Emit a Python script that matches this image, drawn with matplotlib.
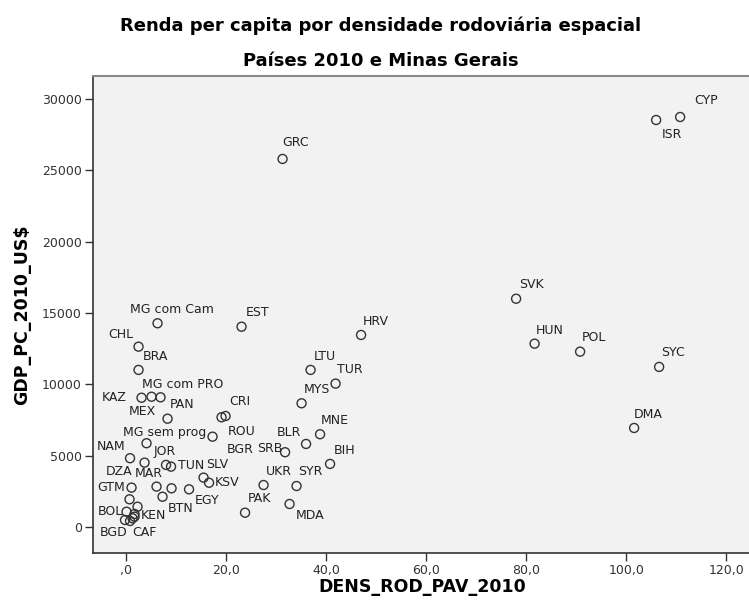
import matplotlib
matplotlib.use("Agg")
import matplotlib.pyplot as plt
from matplotlib.ticker import FixedLocator, FixedFormatter

# road density (km/100 km2, paved) and GDP per capita 2010 (US$)
names = ["CYP", "ISR", "GRC", "SVK", "HUN", "POL", "SYC", "DMA", "HRV", "LTU",
         "TUR", "MYS", "MG com Cam", "EST", "CHL", "BRA", "KAZ", "MEX", "MG com PRO",
         "PAN", "CRI", "ROU", "BGR", "MG sem prog", "NAM", "JOR", "MAR", "TUN",
         "GTM", "DZA", "", "EGY", "BTN", "", "", "BOL", "KEN", "BGD", "CAF", "", "",
         "SLV", "KSV", "UKR", "PAK", "SRB", "BLR", "MNE", "BIH", "SYR", "MDA"]
dens = [110.8, 106.0, 31.3, 78.0, 81.7, 90.8, 106.6, 101.6, 47.0, 36.9,
        41.9, 35.1, 6.3, 23.1, 2.5, 2.5, 3.1, 5.1, 6.9,
        8.3, 19.9, 19.1, 17.3, 4.1, 0.8, 3.7, 8.0, 9.0,
        1.1, 6.1, 9.1, 12.6, 7.3, 0.7, 2.3, 0.1, 1.7, -0.2, 0.8, 1.3, 1.7,
        15.5, 16.6, 27.5, 23.8, 31.8, 36.0, 38.8, 40.8, 34.1, 32.7]
gdp = [28740, 28530, 25800, 16000, 12850, 12290, 11220, 6940, 13460, 11010,
       10050, 8670, 14280, 14040, 12640, 11010, 9060, 9130, 9090,
       7590, 7780, 7690, 6330, 5870, 4820, 4510, 4350, 4230,
       2760, 2830, 2710, 2640, 2120, 1940, 1420, 1070, 910, 490, 420, 610, 720,
       3460, 3100, 2940, 1000, 5240, 5820, 6500, 4420, 2870, 1610]

# label placement: offset in pixels from the marker, horizontal alignment
lab_pos = [(14, 16, "left"), (6, -15, "left"), (0, 16, "left"), (3, 14, "left"),
           (1, 13, "left"), (2, 14, "left"), (2, 14, "left"), (0, 13, "left"),
           (2, 13, "left"), (3, 13, "left"), (1, 14, "left"), (2, 14, "left"),
           (-28, 14, "left"), (4, 14, "left"), (-5, 12, "right"), (4, 13, "left"),
           (-15, 0, "right"), (-9, -15, "center"), (-19, 13, "left"),
           (2, 14, "left"), (4, 14, "left"), (6, -14, "left"), (14, -13, "left"),
           (-24, 11, "left"), (-5, 12, "right"), (9, 11, "left"), (-3, -9, "right"),
           (7, 1, "left"), (-7, 0, "right"), (-24, 15, "right"), (0, 0, "left"),
           (6, -11, "left"), (5, -12, "left"), (0, 0, "left"), (0, 0, "left"),
           (-4, 0, "right"), (6, -2, "left"), (-11, -13, "center"), (2, -12, "left"),
           (0, 0, "left"), (0, 0, "left"),
           (3, 13, "left"), (6, 0, "left"), (2, 14, "left"), (3, 14, "left"),
           (-3, 4, "right"), (-5, 11, "right"), (1, 14, "left"), (4, 13, "left"),
           (2, 15, "left"), (6, -12, "left")]

xticks = [0, 20, 40, 60, 80, 100, 120]
xtick_labels = [",0", "20,0", "40,0", "60,0", "80,0", "100,0", "120,0"]
yticks = [0, 5000, 10000, 15000, 20000, 25000, 30000]

fig = plt.figure(figsize=(7.49, 6.05), dpi=100)
ax = fig.add_axes([0.1242, 0.086, 0.880, 0.7884])
ax.set_facecolor("#f2f2f2")

ax.scatter(dens, gdp, s=42, facecolors="none", edgecolors="#333333",
           linewidths=1.0, zorder=3)

for n, x, y, (dx, dy, ha) in zip(names, dens, gdp, lab_pos):
    if not n:
        continue
    ax.annotate(n, (x, y), xytext=(dx, dy), textcoords="offset pixels",
                ha=ha, va="center", fontsize=9, color="#222222")

ax.set_xlim(-6.6, 125.2)
ax.set_ylim(-1823, 31615)
ax.xaxis.set_major_locator(FixedLocator(xticks))
ax.xaxis.set_major_formatter(FixedFormatter(xtick_labels))
ax.yaxis.set_major_locator(FixedLocator(yticks))
ax.tick_params(axis="both", direction="out", length=6, width=1,
               color="#333333", labelsize=9, labelcolor="#333333", pad=2)

for side in ["left", "bottom"]:
    ax.spines[side].set_color("#333333")
    ax.spines[side].set_linewidth(1.2)
ax.spines["top"].set_color("#888888")
ax.spines["top"].set_linewidth(1.5)
ax.spines["right"].set_visible(False)

ax.set_xlabel("DENS_ROD_PAV_2010", fontsize=12.5, fontweight="bold", labelpad=1)
ax.set_ylabel("GDP_PC_2010_US$", fontsize=12.5, fontweight="bold", labelpad=8)

fig.text(0.508, 0.958, "Renda per capita por densidade rodoviária espacial",
         ha="center", va="center", fontsize=13, fontweight="bold")
fig.text(0.508, 0.899, "Países 2010 e Minas Gerais",
         ha="center", va="center", fontsize=13, fontweight="bold")

fig.savefig("out.png", dpi=100)
